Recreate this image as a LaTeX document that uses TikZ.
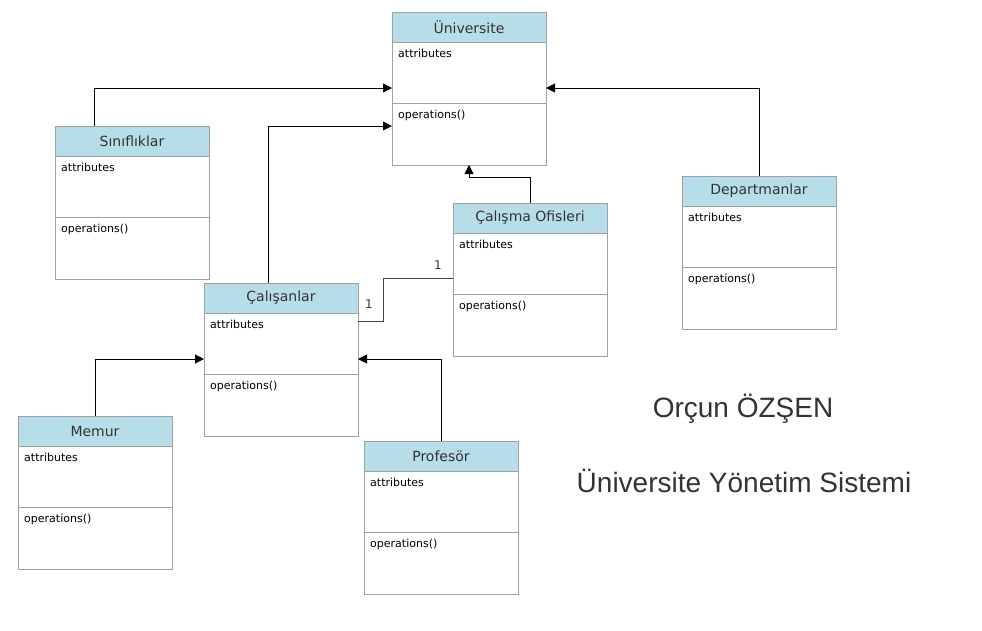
\documentclass[tikz,border=0pt]{standalone}
\usepackage{fontspec}
\setmainfont{DejaVu Sans}
\newfontfamily\titlefont{Liberation Sans}
\usetikzlibrary{arrows.meta,positioning}
\definecolor{headblue}{HTML}{B7DDE8}
\definecolor{boxline}{HTML}{A0A0A0}
\definecolor{textgray}{HTML}{333333}
\tikzset{
  classbox/.style={draw=boxline, fill=white, minimum width=154pt, minimum height=153pt,
    inner sep=0pt, outer sep=0pt, anchor=north west},
  classhead/.style={draw=boxline, fill=headblue, minimum width=154pt, minimum height=30pt,
    inner sep=0pt, outer sep=0pt, anchor=north west, text=textgray,
    font=\fontsize{14}{16}\selectfont},
  member/.style={anchor=north west, inner sep=0pt, font=\fontsize{11}{13}\selectfont},
  gen/.style={-{Triangle[length=9pt,width=9pt]}, black, line width=0.9pt},
  assoc/.style={draw=black!75, line width=0.9pt},
  mult/.style={inner sep=0pt, text=textgray, font=\fontsize{12}{14}\selectfont},
  sysname/.style={text=textgray, font=\titlefont\fontsize{28}{31}\selectfont},
}
% class box: name, x, y, title
\newcommand{\umlclass}[4]{%
  \node[classbox] (#1) at (#2,#3) {};
  \node[classhead] (#1-head) at (#1.north west) {#4};
  \draw[boxline] ([yshift=-91pt]#1.north west) -- ([yshift=-91pt]#1.north east);
  \node[member] (#1-attr) at ([xshift=6pt,yshift=-37pt]#1.north west) {attributes};
  \node[member] (#1-ops) at ([xshift=6pt,yshift=-98pt]#1.north west) {operations()};
}
\begin{document}
\begin{tikzpicture}[x=1pt,y=-1pt]
\useasboundingbox[fill=white] (0,0) rectangle (982,630);
% classes
\umlclass{uni}{392}{12}{Üniversite}
\umlclass{sin}{55}{126}{Sınıflıklar}
\umlclass{dep}{682}{176}{Departmanlar}
\umlclass{ofis}{453}{203}{Çalışma Ofisleri}
\umlclass{cal}{204}{283}{Çalışanlar}
\umlclass{mem}{18}{416}{Memur}
\umlclass{prof}{364}{441}{Profesör}
% inheritance
\draw[gen] ([xshift=39pt]sin.north west) |- ([yshift=-76pt]uni.north west);
\draw[gen] ([xshift=64pt]cal.north west) |- ([yshift=-114pt]uni.north west);
\draw[gen] (ofis.north) -- ++(0,-26) -| ([xshift=77pt]uni.south west);
\draw[gen] (dep.north) |- ([yshift=-76pt]uni.north east);
\draw[gen] (mem.north) |- ([yshift=-76pt]cal.north west);
\draw[gen] (prof.north) |- ([yshift=-76pt]cal.north east);
% association
\draw[assoc] ([yshift=-38pt]cal.north east) -- ++(25,0) |- ([yshift=-75pt]ofis.north west);
\node[mult] (m-cal) at ([xshift=11pt,yshift=-21pt]cal.north east) {1};
\node[mult] (m-ofis) at ([xshift=-15pt,yshift=-62pt]ofis.north west) {1};
% title
\node[sysname] (author) at (743,409) {Orçun ÖZŞEN};
\node[sysname] (system) at (744,481) {Üniversite Yönetim Sistemi};
\end{tikzpicture}
\end{document}
